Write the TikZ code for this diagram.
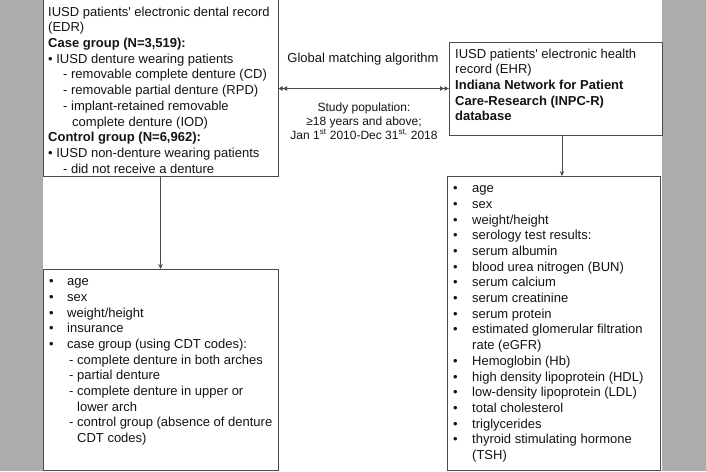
\documentclass[tikz,border=0pt]{standalone}
\usepackage{fontspec}
\setmainfont{Liberation Sans}
\usetikzlibrary{arrows.meta}
\definecolor{bgband}{RGB}{172,172,172}
\definecolor{frame}{RGB}{75,75,75}
\definecolor{ink}{RGB}{20,20,20}
\newcommand{\bul}[1]{\makebox[#1][l]{\textbullet}}
\begin{document}
\begin{tikzpicture}[x=1pt,y=-1pt,
  box/.style={draw=frame, line width=0.8pt, inner sep=0pt, outer sep=0pt, anchor=north west, fill=white},
  txt/.style={anchor=north west, inner sep=0pt, align=left, text=ink, font=\fontsize{13}{15.7}\selectfont},
  arr/.style={draw=frame, line width=0.8pt, -{Stealth[length=5pt,width=4.5pt]}},
  dbl/.style={draw=frame, line width=0.8pt, {Latex[length=4.5pt,width=5pt]Latex[length=4.5pt,width=5pt]}-{Latex[length=4.5pt,width=5pt]Latex[length=4.5pt,width=5pt]}}
]
\useasboundingbox (0,0) rectangle (706,471);
\clip (0,0) rectangle (706,471);
\fill[bgband] (0,0) rectangle (706,471);
\fill[white] (43,0) rectangle (662,471);

% boxes
\node[box, minimum width=235pt, minimum height=186pt] (edr) at (43,-10) {};
\node[box, minimum width=235pt, minimum height=201pt] (edrvars) at (43,269) {};
\node[box, minimum width=213pt, minimum height=93pt] (ehr) at (449,42) {};
\node[box, minimum width=213pt, minimum height=294pt] (ehrvars) at (447,176) {};

% connectors
\draw[arr] (edr.south) -- (edrvars.north);
\draw[arr] ([xshift=6.5pt]ehr.south) -- ([xshift=6.5pt]ehr.south |- ehrvars.north);
\draw[dbl] (edr.east |- ehr.west) -- (ehr.west);

% middle labels
\node[anchor=base, inner sep=0pt, text=ink, font=\fontsize{13}{15.7}\selectfont] (gma) at (363,62) {Global matching algorithm};
\node[anchor=north, inner sep=0pt, align=center, text=ink, font=\fontsize{12}{14}\selectfont] (studypop) at (364,101)
  {\strut Study population:\\ ≥18 years and above;\\ Jan 1\textsuperscript{st} 2010-Dec 31\textsuperscript{st,} 2018};

% box texts
\node[txt] (edrtext) at (48,5) {\strut IUSD patients\textquotesingle{} electronic dental record\\
(EDR)\\
\textbf{Case group (N=3,519):}\\
\textbullet{} IUSD denture wearing patients\\
\hspace*{15pt}- removable complete denture (CD)\\
\hspace*{15pt}- removable partial denture (RPD)\\
\hspace*{15pt}- implant-retained removable\\
\hspace*{24pt}complete denture (IOD)\\
\textbf{Control group (N=6,962):}\\
\textbullet{} IUSD non-denture wearing patients\\
\hspace*{15pt}- did not receive a denture};

\node[txt] (edrvarstext) at (49,274.5) {\strut\bul{18pt}age\\
\bul{18pt}sex\\
\bul{18pt}weight/height\\
\bul{18pt}insurance\\
\bul{18pt}case group (using CDT codes):\\
\hspace*{20pt}- complete denture in both arches\\
\hspace*{20pt}- partial denture\\
\hspace*{20pt}- complete denture in upper or\\
\hspace*{28pt}lower arch\\
\hspace*{20pt}- control group (absence of denture\\
\hspace*{28pt}CDT codes)};

\node[txt] (ehrtext) at (455,47) {\strut IUSD patients\textquotesingle{} electronic health\\
record (EHR)\\
\textbf{Indiana Network for Patient}\\
\textbf{Care-Research (INPC-R)}\\
\textbf{database}};

\node[txt] (ehrvarstext) at (453,181.5) {\strut\bul{19pt}age\\
\bul{19pt}sex\\
\bul{19pt}weight/height\\
\bul{19pt}serology test results:\\
\bul{19pt}serum albumin\\
\bul{19pt}blood urea nitrogen (BUN)\\
\bul{19pt}serum calcium\\
\bul{19pt}serum creatinine\\
\bul{19pt}serum protein\\
\bul{19pt}estimated glomerular filtration\\
\hspace*{19pt}rate (eGFR)\\
\bul{19pt}Hemoglobin (Hb)\\
\bul{19pt}high density lipoprotein (HDL)\\
\bul{19pt}low-density lipoprotein (LDL)\\
\bul{19pt}total cholesterol\\
\bul{19pt}triglycerides\\
\bul{19pt}thyroid stimulating hormone\\
\hspace*{19pt}(TSH)};
\end{tikzpicture}
\end{document}
